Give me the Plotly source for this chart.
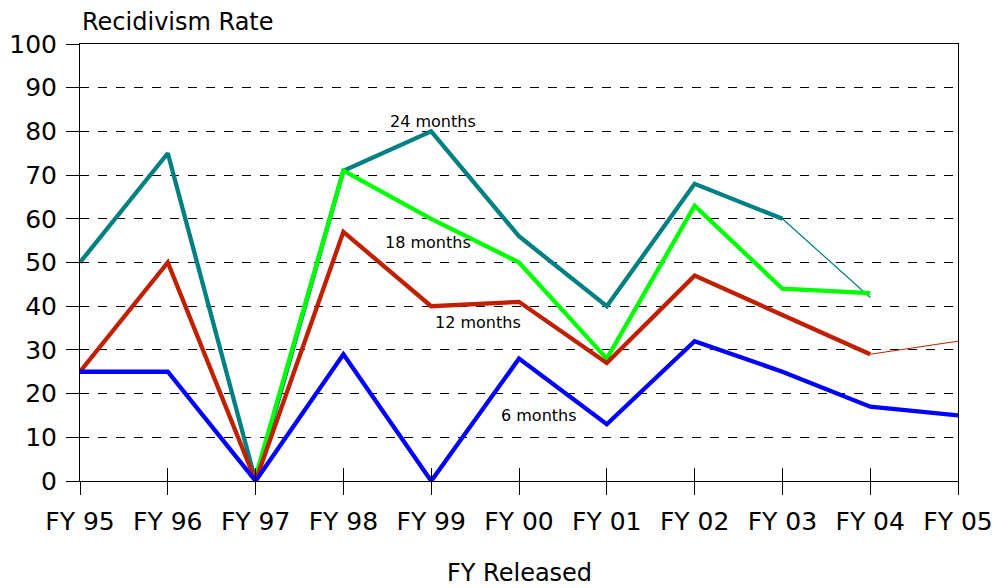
import plotly.graph_objects as go

years = ["FY 95", "FY 96", "FY 97", "FY 98", "FY 99", "FY 00", "FY 01", "FY 02", "FY 03", "FY 04", "FY 05"]
m24 = [50, 75, 0, 71, 80, 56, 40, 68, 60, None, None]
m24_tail = [None, None, None, None, None, None, None, None, 60, 42, None]
m18 = [None, None, 1, 71, 60, 50, 28, 63, 44, 43, None]
m12 = [25, 50, 0, 57, 40, 41, 27, 47, 38, 29, None]
m12_tail = [None, None, None, None, None, None, None, None, None, 29, 32]
m6 = [25, 25, 0, 29, 0, 28, 13, 32, 25, 17, 15]

teal = "#008080"
lime = "#00FF00"
red = "#C02000"
blue = "#0000FF"

fig = go.Figure()
fig.add_trace(go.Scatter(x=years, y=m24_tail, mode="lines", line=dict(color=teal, width=1.2), showlegend=False))
fig.add_trace(go.Scatter(x=years, y=m24, mode="lines", line=dict(color=teal, width=4.3), showlegend=False))
fig.add_trace(go.Scatter(x=years, y=m18, mode="lines", line=dict(color=lime, width=4.3), showlegend=False))
fig.add_trace(go.Scatter(x=years, y=m12_tail, mode="lines", line=dict(color=red, width=1), showlegend=False))
fig.add_trace(go.Scatter(x=years, y=m12, mode="lines", line=dict(color=red, width=4.3), showlegend=False))
fig.add_trace(go.Scatter(x=years, y=m6, mode="lines", line=dict(color=blue, width=4.3), showlegend=False))

font = "DejaVu Sans, Verdana, sans-serif"
fig.update_layout(
    width=995, height=588,
    margin=dict(l=80, r=37, t=44, b=107),
    paper_bgcolor="white", plot_bgcolor="white",
    font=dict(family=font, color="black"),
    xaxis=dict(
        type="category", range=[0, 10], automargin=False,
        showline=True, linecolor="black", linewidth=1, mirror=True,
        ticks="outside", ticklen=13, tickcolor="black", tickwidth=1,
        tickfont=dict(size=25), showgrid=False, zeroline=False,
        ticklabelstandoff=5,
    ),
    xaxis2=dict(
        type="category", range=[0, 10], automargin=False, overlaying="x",
        matches="x", showline=False, ticks="inside", ticklen=13, tickcolor="black", tickwidth=1,
        showticklabels=False, showgrid=False, zeroline=False,
        tickmode="array", tickvals=years,
    ),
    yaxis=dict(
        range=[0, 100], dtick=10, automargin=False,
        showline=True, linecolor="black", linewidth=1, mirror=True,
        ticks="outside", ticklen=13, tickcolor="black", tickwidth=1,
        tickfont=dict(size=25), ticklabelstandoff=4,
        showgrid=True, gridcolor="black", griddash="dash", gridwidth=1,
        zeroline=False,
    ),
    yaxis2=dict(
        range=[0, 100], dtick=10, automargin=False, overlaying="y",
        showline=False, ticks="inside", ticklen=8, tickcolor="black", tickwidth=1,
        showticklabels=False, showgrid=False, zeroline=False,
    ),
    annotations=[
        dict(text="Recidivism Rate", xref="paper", yref="paper", x=0, y=1.05, xanchor="left", yanchor="middle",
             showarrow=False, font=dict(size=24)),
        dict(text="FY Released", xref="paper", yref="paper", x=0.5, y=-0.2105, xanchor="center", yanchor="middle",
             showarrow=False, font=dict(size=24)),
        dict(text="24 months", x=4.02, y=82.2, showarrow=False, font=dict(size=16)),
        dict(text="18 months", x=3.96, y=54.5, showarrow=False, font=dict(size=16)),
        dict(text="12 months", x=4.53, y=36.2, showarrow=False, font=dict(size=16)),
        dict(text="6 months", x=5.23, y=15.1, showarrow=False, font=dict(size=16)),
    ],
)
# invisible helper trace to activate the secondary axes used for the crossing tick marks
fig.add_trace(go.Scatter(x=years, y=[None] * len(years), xaxis="x2", yaxis="y2", mode="lines",
                         showlegend=False, hoverinfo="skip"))

fig.write_html("out.html", config={"displayModeBar": False},
               post_script="document.body.style.margin='0';document.body.style.overflow='hidden';")
